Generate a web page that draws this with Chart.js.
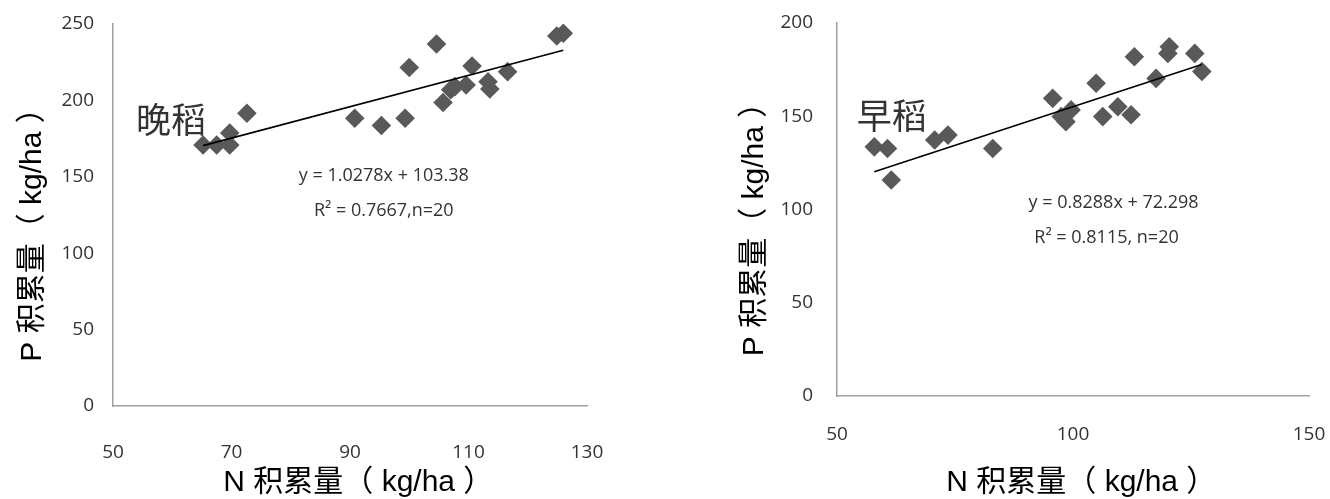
<!DOCTYPE html>
<html>
<head>
<meta charset="utf-8">
<title>N-P 积累量</title>
<script src="https://cdn.jsdelivr.net/npm/chart.js@4.4.0/dist/chart.umd.min.js"></script>
<style>
  body { margin: 0; background: #fff; width: 1330px; height: 499px; overflow: hidden; }
  .panel { position: absolute; top: 0; width: 665px; height: 499px; }
  #late { left: 0; }
  #early { left: 665px; }
</style>
</head>
<body>
<div class="panel" id="late"><canvas id="lateChart" width="665" height="499"></canvas></div>
<div class="panel" id="early"><canvas id="earlyChart" width="665" height="499"></canvas></div>
<script>
// 晚稻 - N vs P accumulation (kg/ha)
const lateN = [65.2, 67.5, 69.7, 69.7, 72.6, 90.8, 95.3, 99.3, 100.0, 104.6,
               105.7, 107.7, 107.0, 109.6, 110.6, 113.3, 113.6, 116.6, 124.9, 126.0];
const lateP = [170.8, 170.8, 170.8, 178.7, 191.6, 188.3, 183.6, 188.3, 221.5, 236.9,
               198.6, 209.0, 207.0, 210.1, 222.5, 212.2, 207.5, 218.8, 242.1, 243.9];
const lateSlope = 1.0278;
const lateIntercept = 103.38;

// 早稻
const earlyN = [57.9, 60.7, 61.5, 70.7, 73.5, 83.0, 95.7, 97.5, 98.5, 99.6,
                104.9, 106.3, 109.5, 112.3, 113.0, 117.6, 120.4, 120.1, 125.8, 127.3];
const earlyP = [133.6, 132.7, 115.8, 137.3, 139.9, 132.7, 159.6, 149.8, 147.1, 153.4,
                167.7, 149.8, 155.1, 150.8, 181.9, 170.3, 187.3, 183.7, 183.7, 174.0];
const earlySlope = 0.8288;
const earlyIntercept = 72.298;

// trailing/leading blanks nudge the titles off the axis centre like the original
const xTitle = '  N 积累量（ kg/ha ）';
const yTitle = 'P 积累量（ kg/ha ）   ';

const tickFont = { family: "'Open Sans', sans-serif", size: 19 };
const titleFont = { family: "'Liberation Sans', 'Noto Sans CJK SC', sans-serif", size: 30 };
const noteFont = "18px 'Open Sans', sans-serif";
const labelFont = "35px 'Noto Sans CJK SC', sans-serif";

// text notes placed in data coordinates
const fitText = {
  id: 'fitText',
  beforeDatasetsDraw(chart, args, opts) {
    const { ctx, scales: { x, y } } = chart;
    ctx.save();
    ctx.textAlign = 'center';
    ctx.textBaseline = 'middle';
    opts.items.forEach((item) => {
      ctx.font = item.font;
      ctx.fillStyle = item.color;
      ctx.fillText(item.text, x.getPixelForValue(item.x), y.getPixelForValue(item.y));
    });
    ctx.restore();
  }
};

const generateChart = (canvasId, cfg) => {
  const points = cfg.n.map((v, i) => ({ x: v, y: cfg.p[i] }));
  const minX = Math.min(...cfg.n);
  const maxX = Math.max(...cfg.n);
  const trend = [minX, maxX].map((v) => ({ x: v, y: cfg.slope * v + cfg.intercept }));

  return new Chart(document.getElementById(canvasId), {
    type: 'scatter',
    data: {
      datasets: [
        {
          type: 'line',
          data: trend,
          borderColor: '#000',
          borderWidth: 1.6,
          pointRadius: 0,
          fill: false,
          order: 0
        },
        {
          data: points,
          pointStyle: 'rectRot',
          pointRadius: 9.8,
          pointHoverRadius: 9.8,
          backgroundColor: '#595959',
          borderWidth: 0,
          order: 1
        }
      ]
    },
    options: {
      responsive: false,
      animation: false,
      devicePixelRatio: 1,
      layout: { padding: { left: 0, right: cfg.padRight, top: cfg.padTop, bottom: 0 } },
      scales: {
        x: {
          type: 'linear',
          min: cfg.xMin,
          max: cfg.xMax,
          ticks: { stepSize: cfg.xStep, padding: cfg.xTickPad, color: '#333', font: tickFont },
          grid: { display: false, drawTicks: false },
          border: { color: '#a0a0a0', width: 1.5 },
          title: { display: true, text: xTitle, color: '#000', font: titleFont, padding: { top: 0, bottom: -2 } },
          afterFit: (s) => { s.height = cfg.xHeight; s.paddingLeft = 0; s.paddingRight = 0; }
        },
        y: {
          type: 'linear',
          min: 0,
          max: cfg.yMax,
          ticks: { stepSize: 50, padding: cfg.yTickPad, color: '#333', font: tickFont },
          grid: { display: false, drawTicks: false },
          border: { color: '#a0a0a0', width: 1.5 },
          title: { display: true, text: yTitle, color: '#000', font: titleFont, padding: { top: cfg.yTitlePad, bottom: 0 } },
          afterFit: (s) => { s.width = cfg.yWidth; s.paddingTop = 0; s.paddingBottom = 0; }
        }
      },
      plugins: {
        legend: { display: false },
        tooltip: { enabled: false },
        fitText: { items: cfg.notes }
      }
    },
    plugins: [fitText]
  });
};

generateChart('lateChart', {
  n: lateN, p: lateP, slope: lateSlope, intercept: lateIntercept,
  xMin: 50, xMax: 130, xStep: 20, yMax: 250,
  yWidth: 113, xHeight: 93, padRight: 78, padTop: 24,
  xTickPad: 35, yTickPad: 19, yTitlePad: 15,
  notes: [
    { text: '晚稻', x: 59.8, y: 187.2, font: labelFont, color: '#333' },
    { text: 'y = 1.0278x + 103.38', x: 95.7, y: 150.5, font: noteFont, color: '#333' },
    { text: 'R² = 0.7667,n=20', x: 95.7, y: 127.6, font: noteFont, color: '#333' }
  ]
});

generateChart('earlyChart', {
  n: earlyN, p: earlyP, slope: earlySlope, intercept: earlyIntercept,
  xMin: 50, xMax: 150, xStep: 50, yMax: 200,
  yWidth: 172, xHeight: 103, padRight: 21, padTop: 23,
  xTickPad: 27, yTickPad: 24, yTitlePad: 72,
  notes: [
    { text: '早稻', x: 61.6, y: 150.1, font: labelFont, color: '#333' },
    { text: 'y = 0.8288x + 72.298', x: 108.6, y: 103.5, font: noteFont, color: '#333' },
    { text: 'R² = 0.8115, n=20', x: 107.1, y: 84.7, font: noteFont, color: '#333' }
  ]
});
</script>
</body>
</html>
